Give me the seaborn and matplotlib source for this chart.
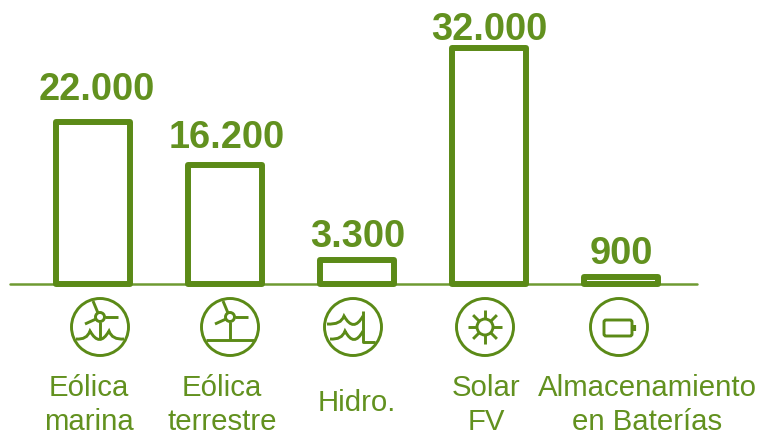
import matplotlib
matplotlib.use("Agg")
import matplotlib.pyplot as plt
import pandas as pd
import seaborn as sns
from matplotlib.patches import Circle, FancyBboxPatch, PathPatch
from matplotlib.path import Path

# Datos
categorias = ["Eólica marina", "Eólica terrestre", "Hidro.", "Solar FV", "Almacenamiento en Baterías"]
valores = [22000, 16200, 3300, 32000, 900]
etiquetas = ["22.000", "16.200", "3.300", "32.000", "900"]
textos = ["Eólica\nmarina", "Eólica\nterrestre", "Hidro.", "Solar\nFV", "Almacenamiento\nen Baterías"]

# Desplazamiento de cada etiqueta (puntos) respecto a la parte alta de su barra
desp_x = [2.5, 1, 0.3, 0.3, 0]
desp_y = [16.6, 12.9, 10.1, 6.7, 10.6]

VERDE = "#5b8a17"
VERDE_TEXTO = "#62911f"

sns.set_theme(style="white")
plt.rcParams["font.family"] = ["Liberation Sans", "DejaVu Sans"]

datos = pd.DataFrame({"categoria": categorias, "valor": valores})

W, H = 757, 431
fig = plt.figure(figsize=(W / 100, H / 100), dpi=100)

# Ejes principales: la base queda en y=285 px
ax = fig.add_axes([10 / W, (H - 285) / H, 687 / W, 285 / H])
ax.patch.set_alpha(0)
sns.barplot(data=datos, x="categoria", y="valor", ax=ax, fill=False, color=VERDE,
            width=0.56, linewidth=4.3, saturation=1, zorder=3)
for barra in ax.containers[0]:
    barra.set_edgecolor(VERDE)
    barra.set_joinstyle("round")
    barra.set_clip_on(False)
for i, etiqueta in enumerate(etiquetas):
    ax.annotate(etiqueta, (i, valores[i]), xytext=(desp_x[i], desp_y[i]), textcoords="offset points",
                ha="center", va="baseline", fontsize=27.4, fontweight="bold", color=VERDE_TEXTO,
                annotation_clip=False)
ax.axhline(0, color="#6f9a32", linewidth=1.8, zorder=1, clip_on=False)
ax.set_xlim(-83 / 132, 604 / 132)
ax.set_ylim(0, 285 / (236 / 32000))
ax.set(xlabel=None, ylabel=None, xticks=[], yticks=[])
sns.despine(ax=ax, left=True, bottom=True)

# Capa en pixeles para iconos y textos
capa = fig.add_axes([0, 0, 1, 1])
capa.set_xlim(0, W)
capa.set_ylim(H, 0)
capa.axis("off")
capa.patch.set_alpha(0)

LW = 2.1


def linea(xs, ys, lw=LW):
    capa.plot(xs, ys, color=VERDE, lw=lw, solid_capstyle="butt", solid_joinstyle="round")


def circulo(cx, cy, r=28.5):
    capa.add_patch(Circle((cx, cy), r, fill=False, ec=VERDE, lw=LW))


def turbina(cx, cy, base):
    hx, hy = cx, cy - 10
    capa.add_patch(Circle((hx, hy), 4.5, fill=False, ec=VERDE, lw=LW))
    linea([hx - 2, cx - 7], [hy - 4, cy - 26])
    linea([hx + 4.5, cx + 18], [hy, hy])
    linea([hx - 4, cx - 15], [hy + 2, cy - 3])
    linea([hx, hx], [hy + 4.5, cy + base])


def ola(y, x_ini, x_fin, picos, alto=8):
    # tramos redondeados abajo y con punta arriba
    pts = [(x_ini, y), (picos[0] - 3, y + 1), (picos[0], y - alto)]
    cod = [Path.MOVETO, Path.CURVE3, Path.CURVE3]
    for p, q in zip(picos[:-1], picos[1:]):
        pts += [((p + q) / 2, y + alto + 1), (q, y - alto)]
        cod += [Path.CURVE3, Path.CURVE3]
    if x_fin is not None:
        pts += [(picos[-1] + 3, y + 1), (x_fin, y)]
        cod += [Path.CURVE3, Path.CURVE3]
    capa.add_patch(PathPatch(Path(pts, cod), fill=False, ec=VERDE, lw=LW))


# Icono 1: eolica marina
cx, cy = 100, 328
circulo(cx, cy)
turbina(cx, cy, 12)
ola(cy + 12, cx - 24, cx + 24, [cx - 10, cx + 9])

# Icono 2: eolica terrestre
cx, cy = 230, 328
circulo(cx, cy)
turbina(cx, cy, 13)
linea([cx - 24, cx + 24], [cy + 13, cy + 13])

# Icono 3: hidro
cx, cy = 353, 328
circulo(cx, cy)
ola(cy - 3, cx - 26, None, [cx - 9, cx + 10])
ola(cy + 12, cx - 23, None, [cx - 8, cx + 10])
linea([cx + 10, cx + 10, cx + 22], [cy - 16, cy + 15, cy + 15])

# Icono 4: solar
cx, cy = 485, 328
circulo(cx, cy)
capa.add_patch(Circle((cx, cy), 8, fill=False, ec=VERDE, lw=LW))
for dx, dy in [(1, 0), (-1, 0), (0, 1), (0, -1), (0.7, 0.7), (-0.7, 0.7), (0.7, -0.7), (-0.7, -0.7)]:
    linea([cx + 8 * dx, cx + 17 * dx], [cy + 8 * dy, cy + 17 * dy])

# Icono 5: baterias
cx, cy = 619, 328
circulo(cx, cy)
capa.add_patch(FancyBboxPatch((cx - 15, cy - 7), 28, 16, boxstyle="round,pad=0,rounding_size=2",
                              fill=False, ec=VERDE, lw=LW))
linea([cx + 15, cx + 15], [cy - 2, cy + 4], lw=3)

# Textos de categoria
posiciones = [(89, 405), (222, 405), (357, 403), (486, 405), (647, 405)]
for texto, (x, y) in zip(textos, posiciones):
    capa.text(x, y, texto, ha="center", va="center", fontsize=21.2, color=VERDE_TEXTO, linespacing=1.29)

fig.savefig("out.png", dpi=100)
